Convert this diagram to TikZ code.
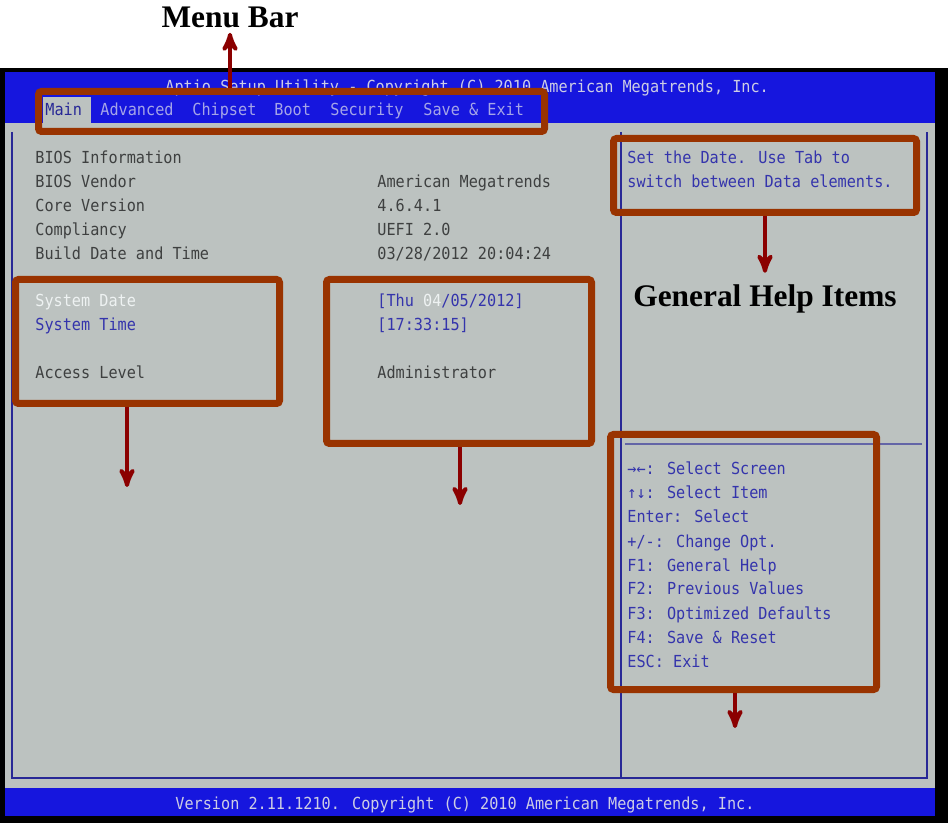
\documentclass[tikz,border=0pt]{standalone}
\usepackage{fontspec}
\setmainfont{Liberation Serif}
\newfontfamily\biosfont[FakeStretch=0.915]{DejaVu Sans Mono}
\usetikzlibrary{arrows,positioning}
\definecolor{biosblue}{RGB}{22,22,222}
\definecolor{biosgrey}{RGB}{188,194,192}
\definecolor{rust}{RGB}{153,51,0}
\definecolor{arrowred}{RGB}{139,0,0}
\definecolor{inkgrey}{RGB}{62,64,64}
\definecolor{inkblue}{RGB}{52,52,172}
\definecolor{inkwhite}{RGB}{238,242,242}
\definecolor{titleink}{RGB}{205,205,228}
\definecolor{menuink}{RGB}{165,165,232}
\definecolor{lineblue}{RGB}{40,40,150}
\tikzset{
    %Define standard arrow tip
    >=stealth',
    %Define style for the highlight boxes
    hilite/.style={
           rectangle,
           rounded corners=1.5pt,
           draw=rust,
           line width=3.5pt},
    %Define style for the screen text
    screen/.style={
           anchor=base west,
           inner sep=0pt,
           font={\biosfont\fontsize{8.3pt}{10pt}\selectfont}},
    caption/.style={
           anchor=base,
           font={\bfseries\fontsize{15.7pt}{18pt}\selectfont},
           inner sep=2pt},
    % Define arrow style
    pointer/.style={
           ->,
           draw=arrowred,
           line width=2pt}
}

\begin{document}
\begin{tikzpicture}[x=0.5pt,y=-0.5pt]
\useasboundingbox (0,0) rectangle (948,823);
 %screen
\fill[black] (0,68) rectangle (948,823);
\fill[biosblue] (5,72) rectangle (935,123);
\fill[biosgrey] (5,123) rectangle (935,788);
\fill[biosblue] (5,788) rectangle (935,816);
\fill[biosgrey] (43,97) rectangle (91,123);
\draw[lineblue, line width=1pt] (12,132) -- (12,778) -- (927,778) -- (927,132);
\draw[lineblue, line width=1.2pt] (621,132) -- (621,778);
\draw[lineblue!60!biosgrey, line width=1pt] (625,444) -- (922,444);
 %title and menu
\node[screen, text=titleink] (title) at (165,93) {Aptio Setup Utility - Copyright (C) 2010 American Megatrends, Inc.};
\node[screen, text=lineblue] (main) at (45,116) {Main};
\node[screen, text=menuink] (advanced) at (100,116) {Advanced};
\node[screen, text=menuink] (chipset) at (192,116) {Chipset};
\node[screen, text=menuink] (boot) at (274,116) {Boot};
\node[screen, text=menuink] (security) at (330,116) {Security};
\node[screen, text=menuink] (saveexit) at (423,116) {Save \& Exit};
 %information
\node[screen, text=inkgrey] (info) at (35,164) {BIOS Information};
\node[screen, text=inkgrey] (vendor) at (35,188) {BIOS Vendor};
\node[screen, text=inkgrey] (core) at (35,212) {Core Version};
\node[screen, text=inkgrey] (compl) at (35,236) {Compliancy};
\node[screen, text=inkgrey] (build) at (35,260) {Build Date and Time};
\node[screen, text=inkgrey] (vendorval) at (377,188) {American Megatrends};
\node[screen, text=inkgrey] (coreval) at (377,212) {4.6.4.1};
\node[screen, text=inkgrey] (complval) at (377,236) {UEFI 2.0};
\node[screen, text=inkgrey] (buildval) at (377,260) {03/28/2012 20:04:24};
\node[screen, text=inkwhite] (sysdate) at (35,307) {System Date};
\node[screen, text=inkblue] (systime) at (35,331) {System Time};
\node[screen, text=inkgrey] (access) at (35,379) {Access Level};
\node[screen, text=inkblue] (dateval) at (377,307) {[Thu \textcolor{inkwhite}{04}/05/2012]};
\node[screen, text=inkblue] (timeval) at (377,331) {[17:33:15]};
\node[screen, text=inkgrey] (accessval) at (377,379) {Administrator};
 %help
\node[screen, text=inkblue] (help1) at (627,164) {Set the Date. Use Tab to};
\node[screen, text=inkblue] (help2) at (627,188) {switch between Data elements.};
\node[screen, text=inkblue] (key1) at (627,475) {→←: Select Screen};
\node[screen, text=inkblue] (key2) at (627,499) {↑↓: Select Item};
\node[screen, text=inkblue] (key3) at (627,523) {Enter: Select};
\node[screen, text=inkblue] (key4) at (627,547) {+/-: Change Opt.};
\node[screen, text=inkblue] (key5) at (627,571) {F1: General Help};
\node[screen, text=inkblue] (key6) at (627,595) {F2: Previous Values};
\node[screen, text=inkblue] (key7) at (627,619) {F3: Optimized Defaults};
\node[screen, text=inkblue] (key8) at (627,643) {F4: Save \& Reset};
\node[screen, text=inkblue] (key9) at (627,667) {ESC: Exit};
\node[screen, text=titleink] (version) at (175,809) {Version 2.11.1210. Copyright (C) 2010 American Megatrends, Inc.};
 %boxes
\node[hilite, minimum width=253pt, minimum height=20pt] (menubox) at (291.5,111.5) {};
\node[hilite, minimum width=132pt, minimum height=62pt] (itembox) at (147.5,341.5) {};
\node[hilite, minimum width=132.5pt, minimum height=82pt] (valuebox) at (459,361.5) {};
\node[hilite, minimum width=151.5pt, minimum height=37pt] (helpbox) at (765,175.5) {};
\node[hilite, minimum width=133pt, minimum height=127.5pt] (keybox) at (743.5,562) {};
 %labels and arrows
\node[caption] (menulabel) at (230,28) {Menu Bar};
\node[caption, inner ysep=6pt] (helplabel) at (765,307) {General Help Items};
\coordinate (itemtip) at (127,487);
\coordinate (valuetip) at (460,505);
\coordinate (keytip) at (735,728);
\draw[pointer] (menubox.north -| menulabel) -- (menulabel.south);
\draw[pointer] (helpbox.south -| helplabel) -- (helplabel.north);
\draw[pointer] (itembox.south -| itemtip) -- (itemtip);
\draw[pointer] (valuebox.south -| valuetip) -- (valuetip);
\draw[pointer] (keybox.south -| keytip) -- (keytip);
\end{tikzpicture}
\end{document}
